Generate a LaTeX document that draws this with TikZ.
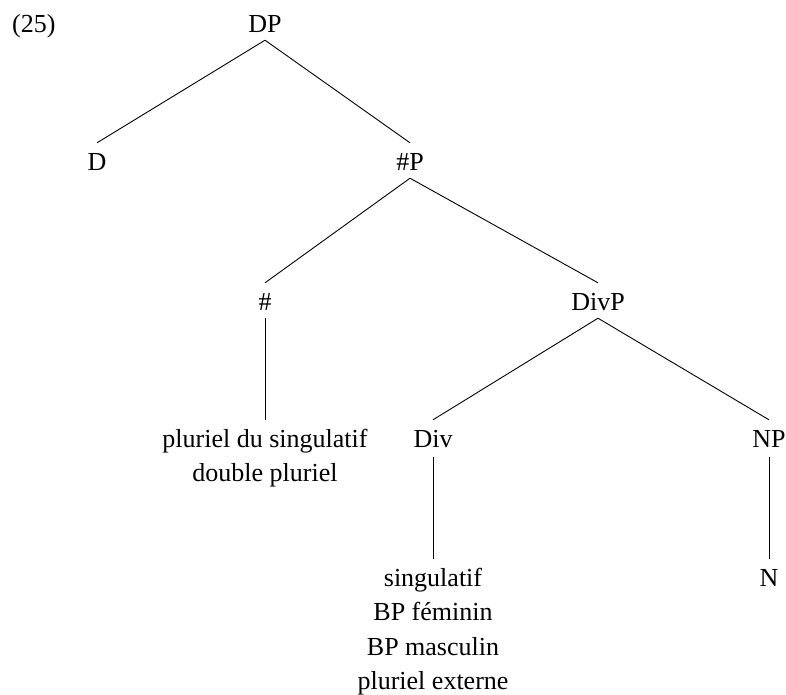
\documentclass[tikz,border=0pt]{standalone}
\usepackage{fontspec}
\setmainfont{Liberation Serif}
\begin{document}
\begin{tikzpicture}[x=1pt,y=-1pt,
  every node/.style={font=\fontsize{26}{34.5}\selectfont, anchor=base,
    inner sep=0pt, text height=27pt, text depth=8pt},
  branch/.style={draw=black, line width=0.9pt}]
\useasboundingbox (0,0) rectangle (786,694);

% example number
\node[anchor=base west] (num) at (12,32) {(25)};

% tree nodes, placed at their baselines
\node (dp)   at (265,32)  {DP};
\node (d)    at (97,170)  {D};
\node (np1)  at (410,170) {\#P};
\node (num2) at (265,310) {\#};
\node (divp) at (598,310) {DivP};
\node (numv) at (265,447) {\begin{tabular}[t]{@{}c@{}}pluriel du singulatif\\ double pluriel\end{tabular}};
\node[text depth=10pt] (div) at (433,447) {Div};
\node[text depth=10pt] (np)  at (769,447) {NP};
\node (divv) at (433,586) {\begin{tabular}[t]{@{}c@{}}singulatif\\ BP féminin\\ BP masculin\\ pluriel externe\end{tabular}};
\node (n)    at (769,586) {N};

% branches
\draw[branch] (dp.south) -- (d.north);
\draw[branch] (dp.south) -- (np1.north);
\draw[branch] (np1.south) -- (num2.north);
\draw[branch] (np1.south) -- (divp.north);
\draw[branch] (num2.south) -- (numv.north);
\draw[branch] (divp.south) -- (div.north);
\draw[branch] (divp.south) -- (np.north);
\draw[branch] (div.south) -- (divv.north);
\draw[branch] (np.south) -- (n.north);
\end{tikzpicture}
\end{document}
